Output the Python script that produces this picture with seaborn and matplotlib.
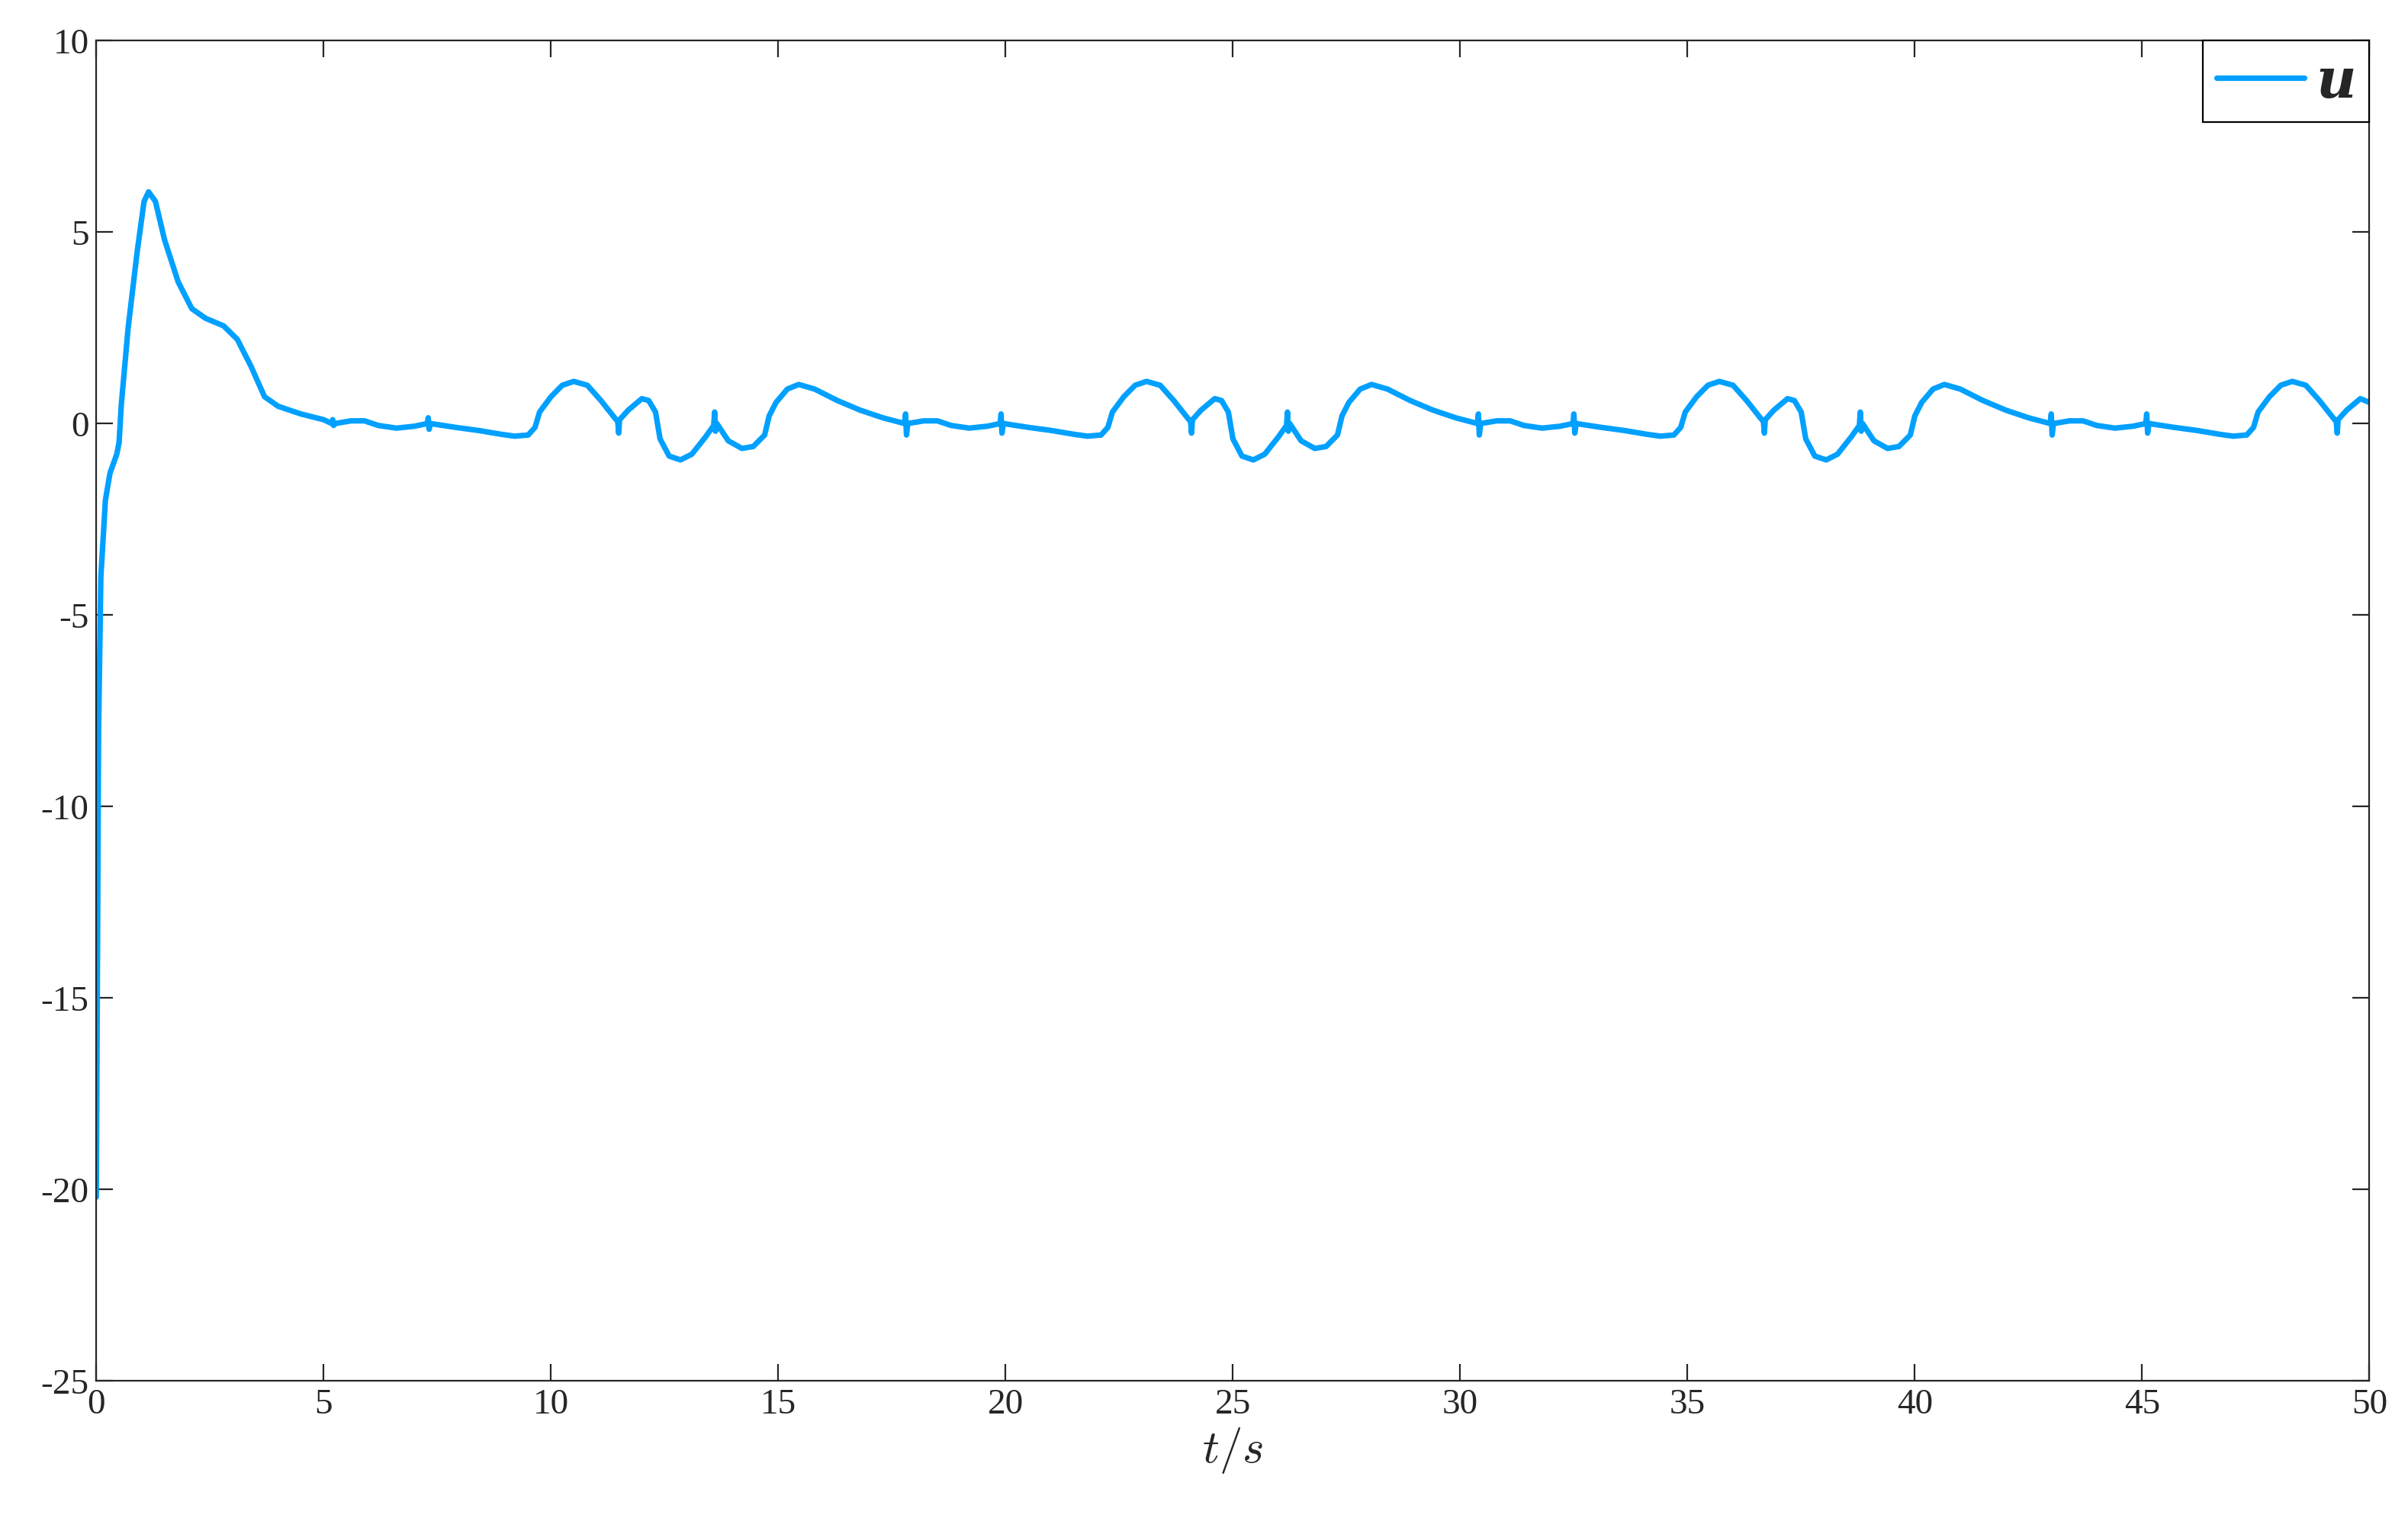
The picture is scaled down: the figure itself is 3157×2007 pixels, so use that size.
import matplotlib
matplotlib.use("Agg")
import matplotlib.pyplot as plt
import seaborn as sns
import numpy as np
import pandas as pd

# Control input u(t)
t_start = [0.0, 0.05, 0.1, 0.2, 0.3, 0.45, 0.5, 0.55, 0.7, 0.9, 1.05, 1.15, 1.3, 1.5, 1.8,
           2.1, 2.4, 2.8, 3.1, 3.4, 3.7, 4.0, 4.5, 5.0, 5.18, 5.2, 5.22, 5.25, 5.6, 5.9,
           6.2, 6.6, 7.0, 7.28, 7.3, 7.32, 7.35, 7.9, 8.4, 8.9]
u_start = [-20.2, -8.0, -4.0, -2.0, -1.3, -0.8, -0.5, 0.5, 2.5, 4.5, 5.8, 6.05, 5.8, 4.8, 3.7,
           3.0, 2.75, 2.55, 2.2, 1.5, 0.7, 0.45, 0.25, 0.1, 0.0, 0.1, -0.05, 0.0, 0.07, 0.07,
           -0.05, -0.12, -0.07, 0.0, 0.15, -0.15, 0.0, -0.1, -0.18, -0.28]

t_p1 = [9.2, 9.5, 9.65, 9.75, 10.0, 10.25, 10.5, 10.8, 11.1, 11.4, 11.47, 11.49, 11.51, 11.7,
        12.0, 12.15, 12.3, 12.4, 12.6, 12.85, 13.1, 13.4, 13.58, 13.6, 13.62, 13.65, 13.9,
        14.2, 14.45, 14.7, 14.8, 14.95, 15.2, 15.45, 15.8, 16.3, 16.8, 17.3, 17.78, 17.8,
        17.82, 17.85, 18.2, 18.5, 18.8, 19.2, 19.6, 19.88, 19.9, 19.92, 19.95, 20.5, 21.0, 21.5]
t_p2 = [21.8, 22.1, 22.25, 22.35, 22.6, 22.85, 23.1, 23.4, 23.7, 24.0, 24.07, 24.09, 24.11, 24.3,
        24.6, 24.75, 24.9, 25.0, 25.2, 25.45, 25.7, 26.0, 26.18, 26.2, 26.22, 26.25, 26.5,
        26.8, 27.05, 27.3, 27.4, 27.55, 27.8, 28.05, 28.4, 28.9, 29.4, 29.9, 30.38, 30.4,
        30.42, 30.45, 30.8, 31.1, 31.4, 31.8, 32.2, 32.48, 32.5, 32.52, 32.55, 33.1, 33.6, 34.1]
t_p3 = [34.4, 34.7, 34.85, 34.95, 35.2, 35.45, 35.7, 36.0, 36.3, 36.6, 36.67, 36.69, 36.71, 36.9,
        37.2, 37.35, 37.5, 37.6, 37.8, 38.05, 38.3, 38.6, 38.78, 38.8, 38.82, 38.85, 39.1,
        39.4, 39.65, 39.9, 40.0, 40.15, 40.4, 40.65, 41.0, 41.5, 42.0, 42.5, 42.98, 43.0,
        43.02, 43.05, 43.4, 43.7, 44.0, 44.4, 44.8, 45.08, 45.1, 45.12, 45.15, 45.7, 46.2, 46.7]
u_cycle = [-0.33, -0.3, -0.1, 0.3, 0.7, 1.0, 1.1, 1.0, 0.6, 0.15, 0.05, -0.25, 0.1, 0.35,
           0.65, 0.6, 0.3, -0.4, -0.85, -0.95, -0.8, -0.35, -0.05, 0.3, -0.2, 0.0, -0.45,
           -0.65, -0.6, -0.3, 0.2, 0.55, 0.9, 1.02, 0.9, 0.6, 0.35, 0.15, 0.0, 0.25,
           -0.3, 0.0, 0.07, 0.07, -0.05, -0.12, -0.07, 0.0, 0.25, -0.25, 0.0, -0.1, -0.18, -0.28]
t_end = [47.0, 47.3, 47.45, 47.55, 47.8, 48.05, 48.3, 48.6, 48.9, 49.2, 49.27, 49.29, 49.31,
         49.5, 49.8, 50.0]
u_end = [-0.33, -0.3, -0.1, 0.3, 0.7, 1.0, 1.1, 1.0, 0.6, 0.15, 0.05, -0.25, 0.1,
         0.35, 0.65, 0.55]

t = t_start + t_p1 + t_p2 + t_p3 + t_end
u = u_start + u_cycle + u_cycle + u_cycle + u_end
df = pd.DataFrame({"t": t, "u": u})

sns.set_style("ticks")
plt.rcParams['font.family'] = ['Liberation Serif', 'DejaVu Serif']
plt.rcParams['mathtext.fontset'] = 'cm'
plt.rcParams['axes.unicode_minus'] = False
plt.rcParams['font.size'] = 17

fig = plt.figure(figsize=(15.785, 10.04), dpi=200)
ax = fig.add_axes([0.040, 0.098, 0.944, 0.875])

sns.lineplot(data=df, x="t", y="u", ax=ax, color='#00A0FF', linewidth=2.6,
             label='u', sort=False)

ax.set_xlim(0, 50)
ax.set_ylim(-25, 10)
ax.set_xticks(np.arange(0, 51, 5))
ax.set_yticks(np.arange(-25, 11, 5))
ax.tick_params(direction='in', top=True, right=True, length=8, width=0.8, labelsize=17)
for s in ax.spines.values():
    s.set_linewidth(0.8)
ax.set_xlabel(r'$t/s$', fontsize=22, labelpad=2)
ax.set_ylabel('')

leg = ax.legend(loc='upper right', fontsize=26, handlelength=1.6, handletextpad=0.2,
                borderpad=0.25, fancybox=False, framealpha=1, edgecolor='black',
                borderaxespad=0.0, prop={'family': 'DejaVu Serif', 'weight': 'bold',
                                         'style': 'italic', 'size': 26})
leg.get_frame().set_linewidth(0.8)

fig.savefig('out.png', dpi=200)
